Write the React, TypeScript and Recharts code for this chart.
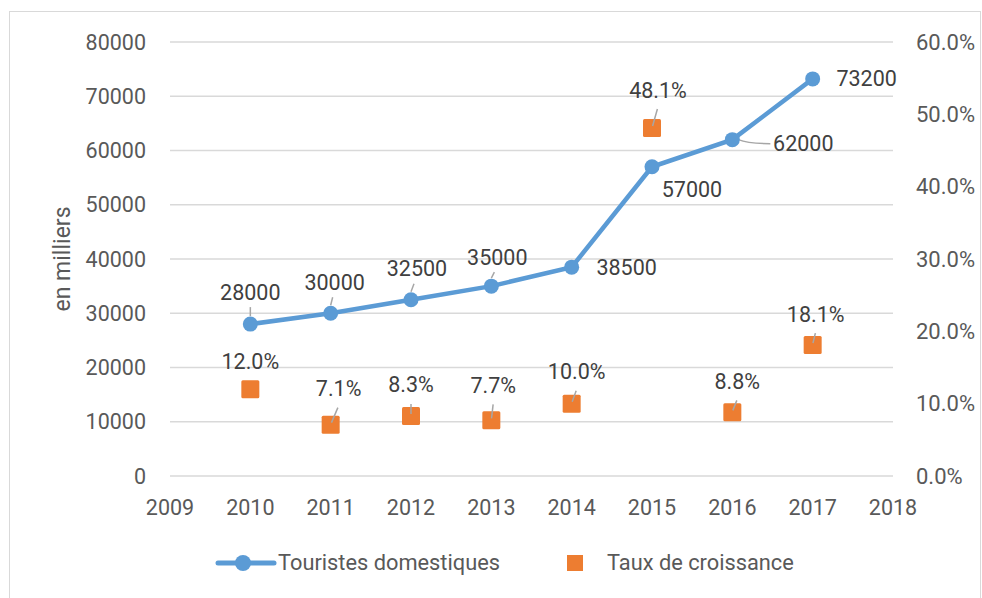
import React from "react";
import { ComposedChart, Line, XAxis, YAxis, CartesianGrid } from "recharts";

const years = [2010, 2011, 2012, 2013, 2014, 2015, 2016, 2017];
const touristes = [28000, 30000, 32500, 35000, 38500, 57000, 62000, 73200];
const croissance = [12.0, 7.1, 8.3, 7.7, 10.0, 48.1, 8.8, 18.1];
const xTicks = [2009, 2010, 2011, 2012, 2013, 2014, 2015, 2016, 2017, 2018];
const leftTicks = [0, 10000, 20000, 30000, 40000, 50000, 60000, 70000, 80000];
const rightTicks = [0, 10, 20, 30, 40, 50, 60];

const data = years.map((year, i) => ({
  year,
  touristes: touristes[i],
  croissance: croissance[i],
}));

// where each data label sits, relative to its point (like Excel's dragged labels)
const touristesLabelPos = [[0, -32], [4, -31], [6, -31], [6, -29], [55, 0], [40, 23], [71, 4], [54, 0]];
const touristesLeader = ["up", "up", "up", "up", "", "", "side", ""];
const croissanceLabelPos = [[0, -28], [8, -36], [0, -31], [2, -35], [5, -32], [6, -38], [5, -31], [3, -31]];

const BLUE = "#5b9bd5";
const ORANGE = "#ed7d31";
const FONT = "Roboto, 'Noto Sans', sans-serif";
const LABEL_COLOR = "#404040";
const TICK_COLOR = "#595959";
const LEADER = "#a6a6a6";

const TouristesDot = (props: any) => {
  const { cx, cy, index, payload } = props;
  if (cx == null || cy == null) return null;
  const [dx, dy] = touristesLabelPos[index];
  const leader = touristesLeader[index];
  return (
    <g key={`t-${index}`}>
      {leader === "up" && (
        <line x1={cx} y1={cy - 8} x2={cx + dx * 0.5} y2={cy + dy + 15} stroke={LEADER} strokeWidth={1.5} />
      )}
      {leader === "side" && (
        <path
          d={`M${cx + 6},${cy} Q${cx + 16},${cy + 4} ${cx + dx - 33},${cy + dy}`}
          fill="none"
          stroke={LEADER}
          strokeWidth={1.5}
        />
      )}
      <circle cx={cx} cy={cy} r={7.5} fill={BLUE} />
      <text
        x={cx + dx}
        y={cy + dy}
        textAnchor="middle"
        dominantBaseline="central"
        fill={LABEL_COLOR}
        fontSize={21.5}
        fontFamily={FONT}
      >
        {payload.touristes}
      </text>
    </g>
  );
};

const CroissanceDot = (props: any) => {
  const { cx, cy, index, payload } = props;
  if (cx == null || cy == null) return null;
  const [dx, dy] = croissanceLabelPos[index];
  return (
    <g key={`c-${index}`}>
      <rect x={cx - 9} y={cy - 9} width={18} height={18} fill={ORANGE} rx={1.5} />
      {dy < -30 && (
        <line x1={cx + dx * 0.1} y1={cy - 2} x2={cx + dx * 0.9} y2={cy + dy + 19} stroke={LEADER} strokeWidth={1.5} />
      )}
      <text
        x={cx + dx}
        y={cy + dy}
        textAnchor="middle"
        dominantBaseline="central"
        fill={LABEL_COLOR}
        fontSize={21.5}
        fontFamily={FONT}
      >
        {payload.croissance.toFixed(1) + "%"}
      </text>
    </g>
  );
};

const AxisTitle = (props: any) => {
  const { viewBox } = props;
  const x = viewBox.x + 52;
  const y = viewBox.y + viewBox.height / 2;
  return (
    <text
      x={x}
      y={y}
      transform={`rotate(-90, ${x}, ${y})`}
      textAnchor="middle"
      dominantBaseline="central"
      fill={TICK_COLOR}
      fontSize={23}
      fontFamily={FONT}
    >
      en milliers
    </text>
  );
};

const legendText: React.CSSProperties = {
  position: "absolute",
  top: 536,
  height: 30,
  lineHeight: "30px",
  fontSize: 21.8,
  color: TICK_COLOR,
  whiteSpace: "nowrap",
};

export default function App() {
  return (
    <>
      <style>{"html, body { overflow: hidden; }"}</style>
      <div
        style={{
          position: "absolute",
          top: 11,
          left: 9,
          width: 970,
          height: 590,
          border: "1px solid #d9d9d9",
          boxSizing: "content-box",
          background: "#fff",
          fontFamily: FONT,
        }}
      >
        <ComposedChart
          width={970}
          height={578}
          data={data}
          margin={{ top: 30, right: 0, left: 0, bottom: 54 }}
          style={{ overflow: "visible" }}
        >
          <CartesianGrid yAxisId="left" vertical={false} stroke="#d9d9d9" strokeWidth={1.5} />
          <XAxis
            dataKey="year"
            type="number"
            domain={[2009, 2018]}
            ticks={xTicks}
            interval={0}
            height={60}
            axisLine={false}
            tickLine={false}
            tickSize={0}
            tickMargin={24}
            tick={{ fill: TICK_COLOR, fontSize: 21.5, fontFamily: FONT }}
          />
          <YAxis
            yAxisId="left"
            domain={[0, 80000]}
            ticks={leftTicks}
            interval={0}
            width={160}
            axisLine={false}
            tickLine={false}
            tickSize={0}
            tickMargin={24}
            tick={{ fill: TICK_COLOR, fontSize: 21.5, fontFamily: FONT }}
            label={<AxisTitle />}
          />
          <YAxis
            yAxisId="right"
            orientation="right"
            domain={[0, 60]}
            ticks={rightTicks}
            interval={0}
            width={87}
            axisLine={false}
            tickLine={false}
            tickSize={0}
            tickMargin={23}
            tickFormatter={(v: number) => v.toFixed(1) + "%"}
            tick={{ fill: TICK_COLOR, fontSize: 22, fontFamily: FONT }}
          />
          <Line
            yAxisId="left"
            dataKey="touristes"
            stroke={BLUE}
            strokeWidth={4.5}
            dot={TouristesDot}
            activeDot={false}
            isAnimationActive={false}
          />
          <Line
            yAxisId="right"
            dataKey="croissance"
            stroke="none"
            strokeWidth={0}
            dot={CroissanceDot}
            activeDot={false}
            isAnimationActive={false}
          />
        </ComposedChart>

        {/* legend */}
        <svg width={970} height={40} style={{ position: "absolute", left: 0, top: 531 }}>
          <line x1={208} y1={20} x2={264} y2={20} stroke={BLUE} strokeWidth={5} strokeLinecap="round" />
          <circle cx={233} cy={20} r={8} fill={BLUE} />
          <rect x={557} y={12} width={16} height={16} fill={ORANGE} />
        </svg>
        <div style={{ ...legendText, left: 268 }}>Touristes domestiques</div>
        <div style={{ ...legendText, left: 597 }}>Taux de croissance</div>
      </div>
    </>
  );
}
